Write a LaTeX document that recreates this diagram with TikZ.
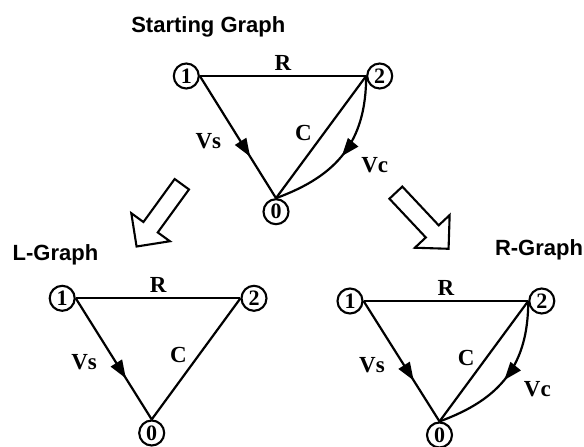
\documentclass[tikz,border=0pt]{standalone}
\usepackage{fontspec}
\setmainfont{Liberation Serif}
\newfontfamily\headfont{Liberation Sans}
\usetikzlibrary{arrows.meta,decorations.markings,shapes.arrows}

\begin{document}
\begin{tikzpicture}[
  x=1pt, y=1pt,
  vtx/.style={draw,circle,line width=2.1pt,minimum size=25pt,inner sep=0pt,
    font=\fontsize{22}{24}\selectfont\bfseries},
  lbl/.style={font=\fontsize{23}{26}\selectfont\bfseries,inner sep=2pt},
  ttl/.style={font=\headfont\fontsize{22}{26}\selectfont\bfseries,anchor=base},
  wire/.style={line width=2.2pt},
  midarr/.style={postaction={decorate},decoration={markings,
      mark=at position #1 with {\arrow{Triangle[length=18pt,width=13pt]}}}},
  bigarr/.style={draw,single arrow,line width=2.1pt,minimum height=77pt,
    inner xsep=0pt,inner ysep=7.8pt,single arrow head extend=15pt},
]
  \useasboundingbox (0,0) rectangle (584,447);

  % starting graph
  \node[ttl] (ttlS) at (208.3,414.3) {Starting Graph};
  \node[vtx] (s1) at (186.3,371) {1};
  \node[vtx] (s2) at (379.7,371) {2};
  \node[vtx] (s0) at (276,235.3) {0};
  \draw[wire] (s1.east) -- node[lbl,above=2.5pt]{R} (s2.west);
  \draw[wire,midarr=0.66] (s1.east) -- node[lbl,pos=0.53,left=16pt]{Vs} (s0.north);
  \draw[wire] (s2.west) -- node[lbl,pos=0.47,left=9pt]{C} (s0.north);
  \draw[wire,midarr=0.52] (s2.west) to[out=-90,in=20,looseness=1.1]
    node[lbl,pos=0.61,right=25pt]{Vc} (s0.north);

  % hollow arrows
  \node[bigarr,rotate=-126] (arrL) at (161.8,235.2) {};
  \node[bigarr,rotate=-46.8] (arrR) at (419.2,229.5) {};

  % L-graph
  \node[ttl] (ttlL) at (55.5,186.3) {L-Graph};
  \node[vtx] (l1) at (62.2,148.7) {1};
  \node[vtx] (l2) at (254,148.7) {2};
  \node[vtx] (l0) at (151.7,14) {0};
  \draw[wire] (l1.east) -- node[lbl,above=2.5pt]{R} (l2.west);
  \draw[wire,midarr=0.66] (l1.east) -- node[lbl,pos=0.53,left=16pt]{Vs} (l0.north);
  \draw[wire] (l2.west) -- node[lbl,pos=0.47,left=9pt]{C} (l0.north);

  % R-graph
  \node[ttl] (ttlR) at (539,191) {R-Graph};
  \node[vtx] (r1) at (350,146) {1};
  \node[vtx] (r2) at (541.8,146) {2};
  \node[vtx] (r0) at (439.5,12) {0};
  \draw[wire] (r1.east) -- node[lbl,above=2.5pt]{R} (r2.west);
  \draw[wire,midarr=0.66] (r1.east) -- node[lbl,pos=0.53,left=16pt]{Vs} (r0.north);
  \draw[wire] (r2.west) -- node[lbl,pos=0.47,left=9pt]{C} (r0.north);
  \draw[wire,midarr=0.52] (r2.west) to[out=-90,in=20,looseness=1.1]
    node[lbl,pos=0.61,right=25pt]{Vc} (r0.north);
\end{tikzpicture}
\end{document}
